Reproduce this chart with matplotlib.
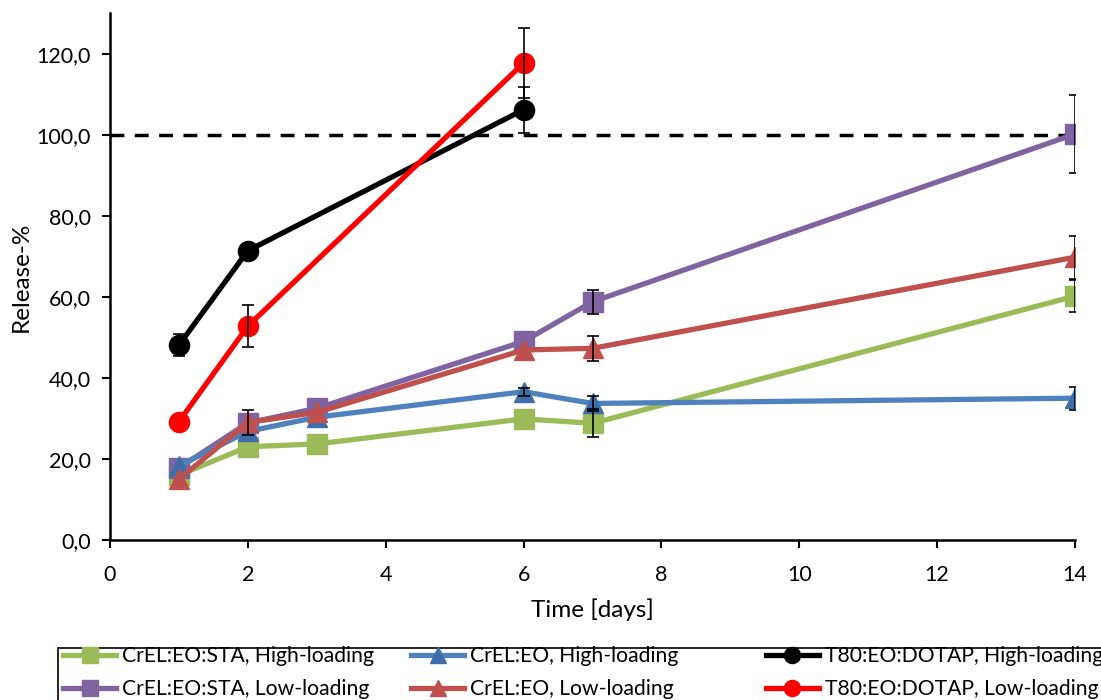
import matplotlib
matplotlib.use("Agg")
import matplotlib.pyplot as plt
from matplotlib.patches import Rectangle
from matplotlib.ticker import FuncFormatter

plt.rcParams['font.family'] = ['Lato', 'DejaVu Sans']

days = [1, 2, 3, 6, 7, 14]
days_t80 = [1, 2, 6]

# release-% values, 0 in the error lists = no error bar shown
sta_high = [16.0, 23.0, 23.7, 29.9, 28.8, 60.2]
sta_high_err = [0, 0, 0, 0, 3.5, 4.0]
eo_high = [18.3, 26.8, 30.3, 36.6, 33.7, 35.0]
eo_high_err = [0, 0, 0, 1.0, 1.9, 2.8]
sta_low = [17.8, 28.9, 32.5, 49.0, 58.8, 100.2]
sta_low_err = [0, 0, 0, 0, 3.0, 9.6]
eo_low = [15.0, 29.0, 31.5, 46.9, 47.3, 69.8]
eo_low_err = [0, 3.0, 0, 0, 3.0, 5.3]
t80_high = [48.1, 71.4, 106.2]
t80_high_err = [2.8, 0, 5.7]
t80_low = [29.2, 52.8, 117.7]
t80_low_err = [0, 5.2, 8.6]

fig = plt.figure(figsize=(11.01, 7.0), dpi=100)
ax = fig.add_axes([0.0999, 0.2286, 0.8765, 0.7524])

def draw(x, y, err, col, mk, label, mcol=None):
    ex = [a for a, e in zip(x, err) if e > 0]
    ey = [b for b, e in zip(y, err) if e > 0]
    ee = [e for e in err if e > 0]
    ax.errorbar(ex, ey, yerr=ee, fmt='none', ecolor='black', elinewidth=1.2,
                capsize=4.3, capthick=1.2, zorder=5)
    h, = ax.plot(x, y, color=col, lw=3.8, marker=mk, ms=14.5,
                 markerfacecolor=mcol or col, markeredgecolor=mcol or col,
                 label=label, zorder=3)
    return h

h1 = draw(days, sta_high, sta_high_err, '#9BBB59', 's', 'CrEL:EO:STA, High-loading')
h2 = draw(days, sta_low, sta_low_err, '#8064A2', 's', 'CrEL:EO:STA, Low-loading')
h3 = draw(days, eo_high, eo_high_err, '#4F81BD', '^', 'CrEL:EO, High-loading', '#3F6FAA')
h4 = draw(days, eo_low, eo_low_err, '#C0504D', '^', 'CrEL:EO, Low-loading')
h5 = draw(days_t80, t80_high, t80_high_err, 'black', 'o', 'T80:EO:DOTAP, High-loading')
h6 = draw(days_t80, t80_low, t80_low_err, '#FF0000', 'o', 'T80:EO:DOTAP, Low-loading')

# 100 % reference line
ax.plot([0, 14], [100, 100], color='black', lw=2.5, ls=(0, (4, 3)), zorder=2)

ax.set_xlim(0, 14)
ax.set_ylim(0, 130)
ax.set_xticks([0, 2, 4, 6, 8, 10, 12, 14])
ax.set_yticks([0, 20, 40, 60, 80, 100, 120])
ax.yaxis.set_major_formatter(FuncFormatter(lambda v, p: f"{v:.1f}".replace('.', ',')))
for s in ['top', 'right']:
    ax.spines[s].set_visible(False)
for s in ['left', 'bottom']:
    ax.spines[s].set_linewidth(1.8)
ax.tick_params(axis='both', direction='out', length=6, width=1.5, labelsize=15.5)
ax.tick_params(axis='x', pad=12)
ax.tick_params(axis='y', pad=8)
ax.set_xlabel('Time [days]', fontsize=17.5, labelpad=10)
ax.set_ylabel('Release-%', fontsize=17.5, labelpad=3)

# legend: three equal-width columns inside one box running off the page
fig.add_artist(Rectangle((0.0527, -0.05), 1.0, 0.05 + 52 / 700, transform=fig.transFigure,
                         fill=False, edgecolor='black', lw=1.2))
col_x = [0.0555, 0.3717, 0.6937]
for cx, hs in zip(col_x, [(h1, h2), (h3, h4), (h5, h6)]):
    fig.legend(handles=list(hs), loc='upper left', bbox_to_anchor=(cx, 0.08),
               fontsize=15.2, frameon=False, handlelength=2.5, handletextpad=0.3,
               borderpad=0.1, borderaxespad=0, labelspacing=0.62, markerscale=0.8)

fig.savefig('out.png', dpi=100)
